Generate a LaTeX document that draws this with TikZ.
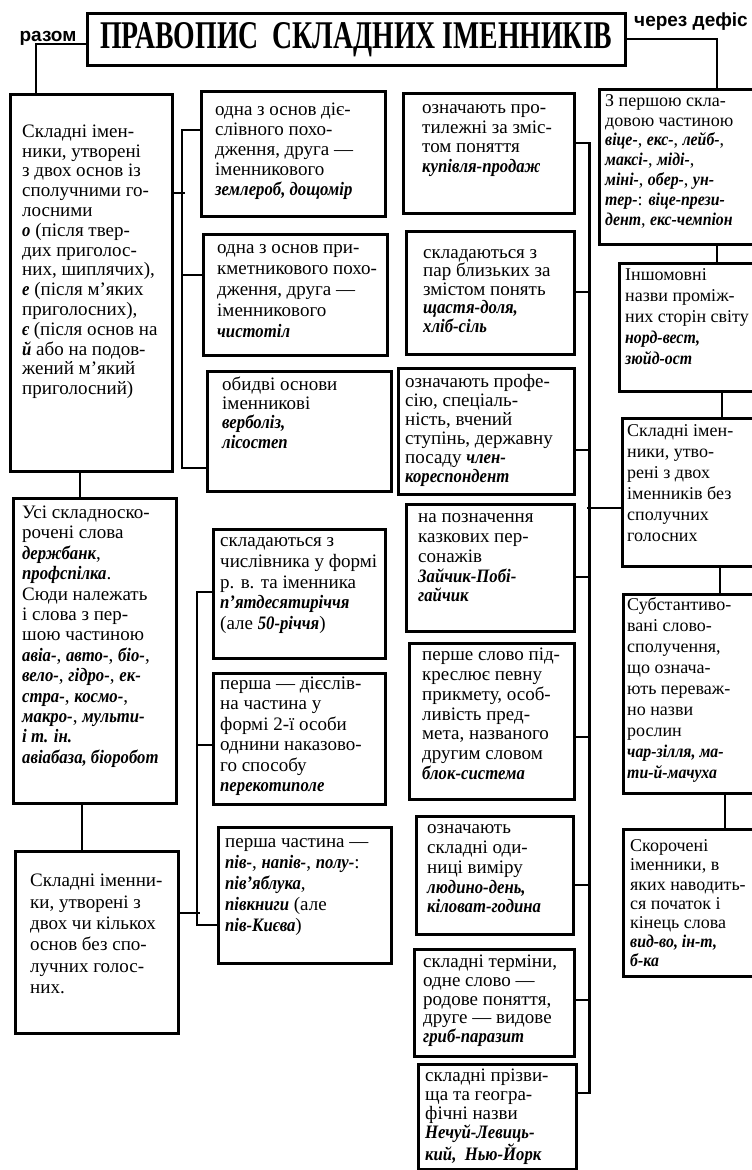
\documentclass[tikz,border=0pt]{standalone}
\usepackage{fontspec}
\setmainfont{Liberation Serif}
\setsansfont{Liberation Sans}
\usepackage{graphicx}
\usetikzlibrary{calc}

% bold italic, slightly narrowed, for the examples
\newcommand{\ex}[1]{{\bfseries\itshape\addfontfeature{FakeStretch=0.88}#1}}

\tikzset{
  box/.style={draw, line width=2.6pt, inner sep=0pt, anchor=north west},
  link/.style={line width=2.6pt},
  txt/.style={anchor=north west, inner sep=0pt, align=left,
    font=\fontsize{19}{#1}\selectfont, execute at begin node=\strut},
  txt/.default=20.5,
  txtr/.style={txt, font=\fontsize{18}{#1}\selectfont},
  txtr/.default=20.5,
  lbl/.style={anchor=base, inner sep=0pt, font=\sffamily\bfseries\fontsize{19}{19}\selectfont},
}

\begin{document}
\begin{tikzpicture}[x=1pt,y=-1pt]
\useasboundingbox (0,0) rectangle (752,1170);
\fill[white] (0,0) rectangle (752,1170);

% title and the two branch labels
\node[box, minimum width=538pt, minimum height=52pt] (T) at (86,12)
  {\resizebox{512pt}{26pt}{\bfseries ПРАВОПИС\ \ СКЛАДНИХ ІМЕННИКІВ}};
\node[lbl] (razom) at (48,41) {разом};
\node[lbl] (defis) at (691,26) {через дефіс};

% left column
\node[box, minimum width=162pt, minimum height=377pt] (A) at (9,93) {};
\node[box, minimum width=163pt, minimum height=305pt] (B) at (12,497) {};
\node[box, minimum width=163pt, minimum height=182pt] (C) at (14,850) {};

% second column
\node[box, minimum width=184pt, minimum height=125pt] (D) at (200,90) {};
\node[box, minimum width=184pt, minimum height=121pt] (E) at (202,233) {};
\node[box, minimum width=184pt, minimum height=120pt] (F) at (206,370) {};
\node[box, minimum width=172pt, minimum height=129pt] (G) at (212,528) {};
\node[box, minimum width=172pt, minimum height=131pt] (H) at (212,672) {};
\node[box, minimum width=173pt, minimum height=136pt] (I) at (217,826) {};

% third column
\node[box, minimum width=171pt, minimum height=120pt] (J) at (402,92) {};
\node[box, minimum width=168pt, minimum height=123pt] (K) at (405,230) {};
\node[box, minimum width=176pt, minimum height=126pt] (L) at (397,367) {};
\node[box, minimum width=168pt, minimum height=127pt] (M) at (405,503) {};
\node[box, minimum width=165pt, minimum height=156pt] (N) at (408,642) {};
\node[box, minimum width=157pt, minimum height=118pt] (O) at (415,815) {};
\node[box, minimum width=160pt, minimum height=107pt] (P) at (413,948) {};
\node[box, minimum width=158pt, minimum height=105pt] (Q) at (417,1063) {};

% right column (runs off the right edge)
\node[box, minimum width=160pt, minimum height=155pt] (R1) at (598,88) {};
\node[box, minimum width=140pt, minimum height=128pt] (R2) at (618,262) {};
\node[box, minimum width=137pt, minimum height=148pt] (R3) at (621,417) {};
\node[box, minimum width=136pt, minimum height=199pt] (R4) at (622,593) {};
\node[box, minimum width=136pt, minimum height=147pt] (R5) at (622,828) {};

% texts
\node[txt=19.8] (At) at (22,124.6) {Складні імен-\\ники, утворені\\з двох основ із\\сполучними го-\\лосними\\
\ex{о} (після твер-\\дих приголос-\\них, шиплячих),\\\ex{е} (після м'яких\\приголосних),\\
\ex{є} (після основ на\\\ex{й} або на подов-\\жений м'який\\приголосний)};
\node[txt=20.4] (Bt) at (22,505.7) {Усі складноско-\\рочені слова\\\ex{держбанк},\\\ex{профспілка}.\\
Сюди належать\\і слова з пер-\\шою частиною\\\ex{авіа-}, \ex{авто-}, \ex{біо-},\\
\ex{вело-}, \ex{гідро-}, \ex{ек-}\\\ex{стра-}, \ex{космо-},\\\ex{макро-}, \ex{мульти-}\\
\ex{і т. ін.}\\\ex{авіабаза, біоробот}};
\node[txt=21.4] (Ct) at (30,874) {Складні іменни-\\ки, утворені з\\двох чи кількох\\основ без спо-\\лучних голос-\\них.};

\node[txt=20] (Dt) at (215,103) {одна з основ діє-\\слівного похо-\\дження, друга —\\іменникового\\\ex{землероб, дощомір}};
\node[txt=21] (Et) at (217,244.3) {одна з основ при-\\кметникового похо-\\дження, друга —\\іменникового\\\ex{чистотіл}};
\node[txt=19.3] (Ft) at (222,376.5) {обидві основи\\іменникові\\\ex{верболіз,}\\\ex{лісостеп}};
\node[txt=20.8] (Gt) at (220,537.4) {складаються з\\числівника у формі\\р. в. та іменника\\\ex{п'ятдесятиріччя}\\(але \ex{50-річчя})};
\node[txt=20.5] (Ht) at (220,676.6) {перша — дієслів-\\на частина у\\формі 2-ї особи\\однини наказово-\\го способу\\\ex{перекотиполе}};
\node[txt=21] (It) at (225,838.3) {перша частина —\\\ex{пів-}, \ex{напів-}, \ex{полу-}:\\\ex{пів'яблука},\\\ex{півкниги} (але\\\ex{пів-Києва})};

\node[txt=19.7] (Jt) at (422,104.2) {означають про-\\тилежні за зміс-\\том поняття\\\ex{купівля-продаж}};
\node[txt=18.5] (Kt) at (423,249) {складаються з\\пар близьких за\\змістом понять\\\ex{щастя-доля,}\\\ex{хліб-сіль}};
\node[txt=19] (Lt) at (405,374.2) {означають профе-\\сію, спеціаль-\\ність, вчений\\ступінь, державну\\посаду \ex{член-}\\\ex{кореспондент}};
\node[txt=19.8] (Mt) at (418,513.5) {на позначення\\казкових пер-\\сонажів\\\ex{Зайчик-Побі-}\\\ex{гайчик}};
\node[txt=19.7] (Nt) at (422,648.2) {перше слово під-\\креслює певну\\прикмету, особ-\\ливість пред-\\мета, названого\\другим словом\\\ex{блок-система}};
\node[txt=19.8] (Ot) at (427,824.6) {означають\\складні оди-\\ниці виміру\\\ex{людино-день,}\\\ex{кіловат-година}};
\node[txt=18.8] (Pt) at (423,954.8) {складні терміни,\\одне слово —\\родове поняття,\\друге — видове\\\ex{гриб-паразит}};
\node[txt=19.2] (Qt) at (425,1068.6) {складні прізви-\\ща та геогра-\\фічні назви\\\ex{Нечуй-Левиць-}\\\ex{кий,\ \ Нью-Йорк}};

\node[txtr=19.8] (R1t) at (605,94.1) {З першою скла-\\довою частиною\\\ex{віце-}, \ex{екс-}, \ex{лейб-},\\\ex{максі-}, \ex{міді-},\\
\ex{міні-}, \ex{обер-}, \ex{ун-}\\\ex{тер-}: \ex{віце-прези-}\\\ex{дент}, \ex{екс-чемпіон}};
\node[txtr=21] (R2t) at (625,268.3) {Іншомовні\\назви проміж-\\них сторін світу\\\ex{норд-вест,}\\\ex{зюйд-ост}};
\node[txtr=21] (R3t) at (627,424.3) {Складні імен-\\ники, утво-\\рені з двох\\іменників без\\сполучних\\голосних};
\node[txtr=21] (R4t) at (627,597.3) {Субстантиво-\\вані слово-\\сполучення,\\що означа-\\ють переваж-\\но назви\\рослин\\
\ex{чар-зілля, ма-}\\\ex{ти-й-мачуха}};
\node[txtr=19.2] (R5t) at (630,839.6) {Скорочені\\іменники, в\\яких наводить-\\ся початок і\\кінець слова\\\ex{вид-во, ін-т,}\\\ex{б-ка}};

% title branches
\draw[link] ($(T.north west)+(0,32)$) -| ($(A.north west)+(27,0)$);
\draw[link] ($(T.north east)+(0,27)$) -| ($(R1.north west)+(119,0)$);

% left column chain
\draw[link] ($(A.south west)+(71,0)$) -- ($(B.north west)+(68,0)$);
\draw[link] ($(B.south west)+(70,0)$) -- ($(C.north west)+(68,0)$);

% A -> D, E, F
\draw[link] ($(D.north west)+(0,40)$) -- +(-18,0) |- ($(F.north west)+(0,98)$);
\draw[link] ($(E.north west)+(0,42)$) -- +(-20,0);
\draw[link] ($(A.north east)+(0,100)$) -- +(11,0);

% C -> G, H, I
\draw[link] ($(G.north west)+(0,64)$) -- +(-15,0) |- ($(I.north west)+(0,99)$);
\draw[link] ($(H.north west)+(0,73)$) -- +(-15,0);
\draw[link] ($(C.north east)+(0,63)$) -- +(20,0);

% R3 -> third column
\draw[link] ($(J.north east)+(0,51)$) -- +(14,0) |- ($(Q.north east)+(0,30)$);
\draw[link] ($(K.north east)+(0,62)$) -- +(14,0);
\draw[link] ($(L.north east)+(0,83)$) -- +(14,0);
\draw[link] ($(M.north east)+(0,74)$) -- +(14,0);
\draw[link] ($(N.north east)+(0,95)$) -- +(14,0);
\draw[link] ($(O.north east)+(0,70)$) -- +(15,0);
\draw[link] ($(P.north east)+(0,52)$) -- +(14,0);
\draw[link] ($(R3.north west)+(0,91)$) -- +(-34,0);

% right column chain
\draw[link] ($(R1.south west)+(119,0)$) -- ($(R2.north west)+(99,0)$);
\draw[link] ($(R2.south west)+(104,0)$) -- ($(R3.north west)+(101,0)$);
\draw[link] ($(R3.south west)+(99,0)$) -- ($(R4.north west)+(98,0)$);
\draw[link] ($(R4.south west)+(103,0)$) -- ($(R5.north west)+(103,0)$);
\end{tikzpicture}
\end{document}
